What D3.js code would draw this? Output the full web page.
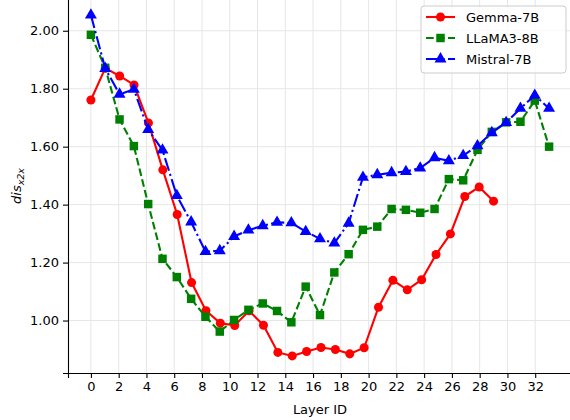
<!DOCTYPE html>
<html>
<head>
<meta charset="utf-8">
<script src="https://cdn.jsdelivr.net/npm/d3@7"></script>
<style>
	body { margin: 0; background: #fff; }
	#diagram1 { width: 570px; height: 420px; }
	.axis text { font-family: "DejaVu Sans", sans-serif; font-size: 13px; fill: #000; }
	.axis path, .axis line { stroke: #000; stroke-width: 1.1; }
	.grid line { stroke: #e6e6e6; stroke-width: 1; }
</style>
</head>
<body>
<div id="diagram1"></div>
<script>
var xTicks = d3.range(0, 33, 2);
var yTicks = [1.0, 1.2, 1.4, 1.6, 1.8, 2.0];

var gemma = [1.761, 1.871, 1.844, 1.813, 1.682, 1.520, 1.366, 1.131, 1.034, 0.991,
	0.983, 1.034, 0.984, 0.890, 0.878, 0.893, 0.907, 0.900, 0.885, 0.906,
	1.046, 1.139, 1.106, 1.141, 1.228, 1.299, 1.428, 1.461, 1.412];
var llama = [1.986, 1.872, 1.694, 1.602, 1.402, 1.213, 1.150, 1.075, 1.013, 0.962,
	1.002, 1.037, 1.059, 1.033, 0.994, 1.117, 1.019, 1.166, 1.229, 1.313,
	1.324, 1.385, 1.382, 1.372, 1.385, 1.488, 1.484, 1.589, 1.651, 1.684,
	1.686, 1.759, 1.600];
var mistral = [2.054, 1.870, 1.781, 1.798, 1.659, 1.588, 1.431, 1.340, 1.238, 1.241,
	1.290, 1.312, 1.327, 1.339, 1.337, 1.307, 1.282, 1.267, 1.336, 1.494,
	1.503, 1.510, 1.514, 1.526, 1.562, 1.551, 1.569, 1.603, 1.648, 1.683,
	1.732, 1.777, 1.732];

var seriesNames = ['Gemma-7B', 'LLaMA3-8B', 'Mistral-7B'];

var series = [
	{ name: seriesNames[0], values: gemma, color: '#ff0000', dash: null, marker: d3.symbolCircle, size: 64 },
	{ name: seriesNames[1], values: llama, color: '#008000', dash: '7.7,3.3', marker: d3.symbolSquare, size: 72 },
	{ name: seriesNames[2], values: mistral, color: '#0000ff', dash: '13.3,3.3,2.1,3.3', marker: d3.symbolTriangle, size: 62 }
];

var
CHART_WIDTH = 570,
CHART_HEIGHT = 420,
margin = {top: -2, right: -2, bottom: 47, left: 68},
width = CHART_WIDTH - margin.left - margin.right,
height = CHART_HEIGHT - margin.top - margin.bottom;

var svg = d3
.select('#diagram1')
.append('svg')
.attr('width', CHART_WIDTH)
.attr('height', CHART_HEIGHT)
;
var g = svg.append('g').attr('transform', 'translate(' + margin.left + ',' + margin.top + ')');

var x = d3.scaleLinear().domain([-1.65, 34.65]).range([0, width]);
var y = d3.scaleLinear().domain([0.819, 2.113]).range([height, 0]);

// grid
g.append('g').attr('class', 'grid')
.selectAll('line.v').data(xTicks).enter().append('line')
.attr('x1', function(d) { return x(d); }).attr('x2', function(d) { return x(d); })
.attr('y1', 0).attr('y2', height);
g.append('g').attr('class', 'grid')
.selectAll('line.h').data(yTicks).enter().append('line')
.attr('y1', function(d) { return y(d); }).attr('y2', function(d) { return y(d); })
.attr('x1', 0).attr('x2', width);

// lines and markers
series.forEach(function(s) {
	// layers are spread over 0..n, as in the original plot
	var n = s.values.length;
	var idx = d3.scaleLinear().domain([0, n - 1]).range([0, n]);
	var line = d3.line()
	.x(function(d, i) { return x(idx(i)); })
	.y(function(d) { return y(d); });
	g.append('path')
	.datum(s.values)
	.attr('fill', 'none')
	.attr('stroke', s.color)
	.attr('stroke-width', 2.1)
	.attr('stroke-dasharray', s.dash)
	.attr('d', line);
	g.append('g')
	.selectAll('path')
	.data(s.values)
	.enter()
	.append('path')
	.attr('transform', function(d, i) { return 'translate(' + x(idx(i)) + ',' + y(d) + ')'; })
	.attr('d', d3.symbol().type(s.marker).size(s.size))
	.attr('fill', s.color);
});

// axes
g.append('g')
.attr('class', 'axis')
.attr('transform', 'translate(0,' + height + ')')
.call(d3.axisBottom(x).tickValues(xTicks).tickSizeOuter(0).tickSize(5).tickPadding(4));
g.append('g')
.attr('class', 'axis')
.call(d3.axisLeft(y).tickValues(yTicks).tickFormat(d3.format('.2f')).tickSizeOuter(0).tickSize(5).tickPadding(4));

// axis labels
svg.append('text')
.attr('x', margin.left + width / 2)
.attr('y', 414)
.attr('text-anchor', 'middle')
.style('font-family', 'DejaVu Sans, sans-serif')
.style('font-size', '13px')
.text('Layer ID');

var ylab = svg.append('text')
.attr('transform', 'translate(21,186) rotate(-90)')
.attr('text-anchor', 'middle')
.style('font-family', 'DejaVu Sans, sans-serif')
.style('font-size', '13px')
.style('font-style', 'italic');
ylab.append('tspan').text('dis');
ylab.append('tspan').attr('dy', 3).style('font-size', '9.5px').text('x2x');

// legend
var legend = svg.append('g').attr('transform', 'translate(421,6)');
legend.append('rect')
.attr('width', 145)
.attr('height', 67)
.attr('rx', 3)
.attr('fill', '#fff')
.attr('fill-opacity', 0.8)
.attr('stroke', '#cccccc');
series.forEach(function(s, i) {
	var item = legend.append('g').attr('transform', 'translate(0,' + (11 + i * 21) + ')');
	item.append('line')
	.attr('x1', 5).attr('x2', 34)
	.attr('stroke', s.color)
	.attr('stroke-width', 2.1)
	.attr('stroke-dasharray', s.dash);
	item.append('path')
	.attr('transform', 'translate(19.5,0)')
	.attr('d', d3.symbol().type(s.marker).size(s.size))
	.attr('fill', s.color);
	item.append('text')
	.attr('x', 45)
	.attr('y', 0)
	.attr('dy', '0.35em')
	.style('font-family', 'DejaVu Sans, sans-serif')
	.style('font-size', '13px')
	.text(s.name);
});
</script>
</body>
</html>
